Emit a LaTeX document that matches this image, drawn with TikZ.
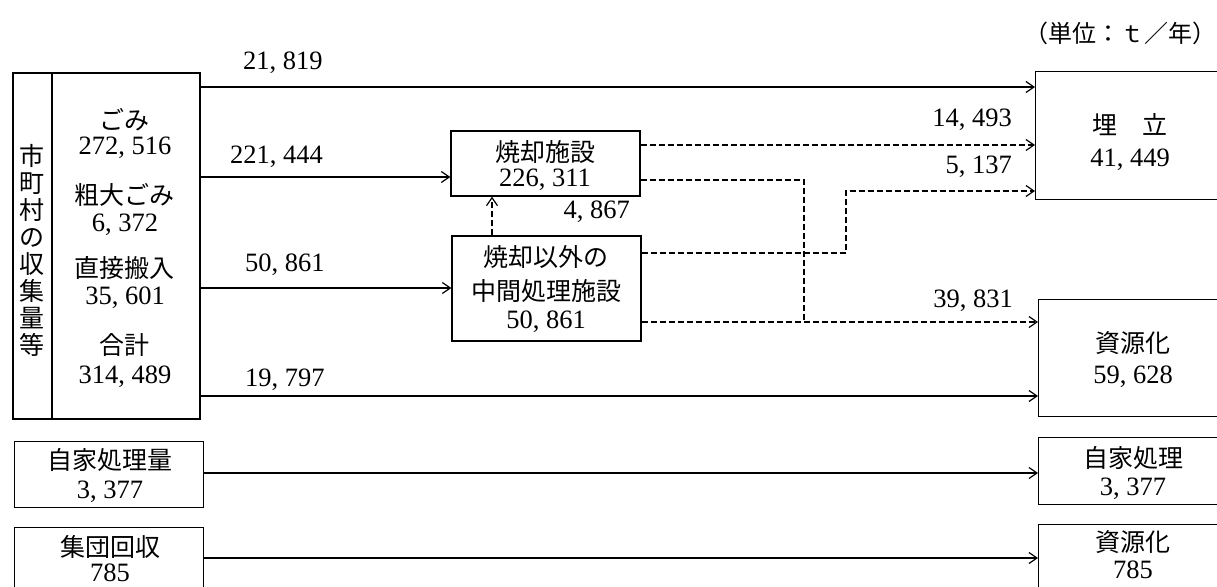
\documentclass[tikz,border=0pt]{standalone}
\usepackage{fontspec}
\setmainfont{Liberation Serif}
\newfontfamily\jp{Noto Sans CJK JP}
\usetikzlibrary{arrows.meta}
\newcommand\kcomma{,\hspace{.25em}}
\begin{document}
\begin{tikzpicture}[x=1pt,y=-1pt,
  box/.style={draw, line width=1.3pt, inner sep=0pt},
  num/.style={font=\fontsize{26.5}{30}\selectfont, inner sep=0pt},
  jt/.style={font=\jp\fontsize{25}{28}\selectfont, inner sep=0pt},
  flow/.style={line width=1.2pt, -{Straight Barb[length=8pt,width=11pt]}},
  dflow/.style={flow, dash pattern=on 6pt off 3pt},
  dline/.style={line width=1.2pt, dash pattern=on 6pt off 3pt}]
\clip (0,0) rectangle (1217,586);
\fill[white] (0,0) rectangle (1217,586);

% unit label
\node[jt, font=\jp\fontsize{24}{28}\selectfont] (unit) at (1120,33) {（単位：ｔ／年）};

% left big box
\node[box, minimum width=187, minimum height=346] (L) at (106.5,246) {};
\coordinate (divT) at (52,73);
\coordinate (divB) at (52,419);
\draw[line width=1.3pt] (divT) -- (divB);
\node[jt, align=center, font=\jp\fontsize{25}{27}\selectfont] (Lv) at (32,250)
  {市\\町\\村\\の\\収\\集\\量\\等};
\node[jt] (gomi) at (124,120) {ごみ};
\node[num] (gomiN) at (125,148) {272\kcomma 516};
\node[jt] (sodai) at (124,195) {粗大ごみ};
\node[num] (sodaiN) at (125,225) {6\kcomma 372};
\node[jt] (choku) at (124,268) {直接搬入};
\node[num] (chokuN) at (125,298) {35\kcomma 601};
\node[jt] (goukei) at (124,345) {合計};
\node[num] (goukeiN) at (125,377) {314\kcomma 489};

% middle boxes
\node[box, minimum width=189, minimum height=65] (S) at (545.5,163.5) {};
\node[jt] (St) at (545,152) {焼却施設};
\node[num] (Sn) at (545,180) {226\kcomma 311};
\node[box, minimum width=189, minimum height=105] (C) at (546.5,288.5) {};
\node[jt] (Ct1) at (546,257) {焼却以外の};
\node[jt] (Ct2) at (546,291) {中間処理施設};
\node[num] (Cn) at (546,322) {50\kcomma 861};

% right boxes
\node[box, minimum width=200, minimum height=128, anchor=north west] (U) at (1035,71) {};
\node[jt] (Ut) at (1130,125) {埋\hspace{1em}立};
\node[num] (Un) at (1130,160) {41\kcomma 449};
\node[box, minimum width=200, minimum height=117, anchor=north west] (R1) at (1038,299) {};
\node[jt] (R1t) at (1133,343) {資源化};
\node[num] (R1n) at (1133,377) {59\kcomma 628};
\node[box, minimum width=200, minimum height=67, anchor=north west] (J) at (1038,437) {};
\node[jt] (Jt) at (1133,458) {自家処理};
\node[num] (Jn) at (1133,489) {3\kcomma 377};
\node[box, minimum width=200, minimum height=80, anchor=north west] (R2) at (1038,524) {};
\node[jt] (R2t) at (1133,542) {資源化};
\node[num] (R2n) at (1133,570) {785};

% bottom-left boxes
\node[box, minimum width=189, minimum height=66, anchor=north west] (JL) at (14,441) {};
\node[jt] (JLt) at (110,460) {自家処理量};
\node[num] (JLn) at (110,492) {3\kcomma 377};
\node[box, minimum width=189, minimum height=80, anchor=north west] (SL) at (14,527) {};
\node[jt] (SLt) at (110,547) {集団回収};
\node[num] (SLn) at (110,573) {785};

% solid flows
\draw[flow] (L.east |- 0,87) -- (U.west |- 0,87);
\draw[flow] (L.east |- 0,177) -- (S.west |- 0,177);
\draw[flow] (L.east |- 0,288) -- (C.west |- 0,288);
\draw[flow] (L.east |- 0,396) -- (R1.west |- 0,396);
\draw[flow] (JL.east |- 0,473) -- (J.west |- 0,473);
\draw[flow] (SL.east |- 0,558) -- (R2.west |- 0,558);

% dashed flows
\draw[dflow] (S.east |- 0,145) -- (U.west |- 0,145);
\draw[dline] (S.east |- 0,180) -- (804,180) -- (804,322);
\draw[dflow] (C.east |- 0,253) -- (846,253) -- (846,191) -- (U.west |- 0,191);
\draw[dflow] (C.east |- 0,322) -- (R1.west |- 0,322);
\draw[dflow] (C.north -| 492,0) -- (S.south -| 492,0);

% flow labels
\node[num, anchor=west] (l1) at (243,63) {21\kcomma 819};
\node[num, anchor=west] (l2) at (230,157) {221\kcomma 444};
\node[num, anchor=west] (l3) at (245,265) {50\kcomma 861};
\node[num, anchor=west] (l4) at (245,380) {19\kcomma 797};
\node[num, anchor=east] (l5) at (1012,120) {14\kcomma 493};
\node[num, anchor=east] (l6) at (1012,167) {5\kcomma 137};
\node[num, anchor=east] (l7) at (1013,301) {39\kcomma 831};
\node[num, anchor=east] (l8) at (630,212) {4\kcomma 867};
\end{tikzpicture}
\end{document}
